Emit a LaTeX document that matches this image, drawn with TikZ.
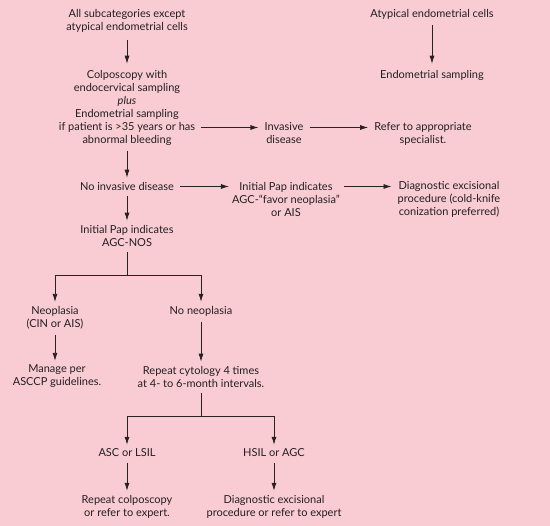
\documentclass[tikz,border=0pt]{standalone}
\usepackage{fontspec}
\setmainfont{Lato}
\usetikzlibrary{arrows.meta}
\definecolor{bg}{RGB}{249,204,212}
\definecolor{ink}{RGB}{40,34,34}
\definecolor{txt}{RGB}{35,31,32}
\tikzset{
  lbl/.style={align=center, text=txt, inner sep=0pt, font=\fontsize{11}{13}\selectfont},
  arr/.style={draw=ink, line width=0.8pt, -{Latex[length=8pt,width=5pt]}},
  ln/.style={draw=ink, line width=0.8pt}
}
\begin{document}
\begin{tikzpicture}[x=1pt,y=-1pt]
\fill[bg] (0,0) rectangle (550,526);
\useasboundingbox (0,0) rectangle (550,526);

\node[lbl] (all) at (127,20.5) {All subcategories except\\atypical endometrial cells};
\node[lbl] (atyp) at (432,14) {Atypical endometrial cells};
\node[lbl] (endo) at (432,75) {Endometrial sampling};
\node[lbl] (colp) at (127,107.5) {Colposcopy with\\endocervical sampling\\\textit{plus}\\Endometrial sampling\\if patient is >35 years or has\\abnormal bleeding};
\node[lbl] (inv) at (284,133.5) {Invasive\\disease};
\node[lbl] (refer) at (423,133.5) {Refer to appropriate\\specialist.};
\node[lbl] (noinv) at (127,186) {No invasive disease};
\node[lbl] (favor) at (286,199) {Initial Pap indicates\\AGC-“favor neoplasia”\\or AIS};
\node[lbl] (diag1) at (449,199) {Diagnostic excisional\\procedure (cold-knife\\conization preferred)};
\node[lbl] (nos) at (127,235.5) {Initial Pap indicates\\AGC-NOS};
\node[lbl] (neo) at (55,317.5) {Neoplasia\\(CIN or AIS)};
\node[lbl] (noneo) at (201,311) {No neoplasia};
\node[lbl] (manage) at (57,376.5) {Manage per\\ASCCP guidelines.};
\node[lbl] (repeat) at (201,376.5) {Repeat cytology 4 times\\at 4- to 6-month intervals.};
\node[lbl] (asc) at (127,453) {ASC or LSIL};
\node[lbl] (hsil) at (274,453) {HSIL or AGC};
\node[lbl] (rcol) at (127,506.5) {Repeat colposcopy\\or refer to expert.};
\node[lbl] (diag2) at (274,506.5) {Diagnostic excisional\\procedure or refer to expert};

\coordinate (r1) at (0,127.5);
\coordinate (r2) at (0,186.5);
\coordinate (b1) at (127,275);
\coordinate (b2) at (201,416);

% vertical arrows
\draw[arr] ([yshift=-8pt]all.south) -- ([yshift=6pt]colp.north);
\draw[arr] ([yshift=-6pt]atyp.south) -- ([yshift=6pt]endo.north);
\draw[arr] ([yshift=-6pt]colp.south) -- ([yshift=4pt]noinv.north);
\draw[arr] ([yshift=-6pt]noinv.south) -- ([yshift=4pt]nos.north);
\draw[arr] ([yshift=-6pt]neo.south) -- ([yshift=4pt]neo.south |- manage.north);
\draw[arr] ([yshift=-6pt]noneo.south) -- ([yshift=4pt]repeat.north);
\draw[arr] ([yshift=-6pt]asc.south) -- ([yshift=4pt]rcol.north);
\draw[arr] ([yshift=-6pt]hsil.south) -- ([yshift=4pt]diag2.north);

% horizontal arrows
\draw[arr] ([xshift=6pt]colp.east |- r1) -- ([xshift=-6pt]inv.west |- r1);
\draw[arr] ([xshift=6pt]inv.east |- r1) -- ([xshift=-6pt]refer.west |- r1);
\draw[arr] ([xshift=6pt]noinv.east |- r2) -- ([xshift=-3pt]favor.west |- r2);
\draw[arr] ([xshift=4pt]favor.east |- r2) -- ([xshift=-6pt]diag1.west |- r2);

% branches
\draw[ln] ([yshift=-6pt]nos.south) -- (b1);
\draw[arr] (b1) -| ([yshift=4pt]neo.north);
\draw[arr] (b1) -| ([yshift=4pt]noneo.north);
\draw[ln] ([yshift=-6pt]repeat.south) -- (b2);
\draw[arr] (b2) -| ([yshift=4pt]asc.north);
\draw[arr] (b2) -| ([yshift=4pt]hsil.north);
\end{tikzpicture}
\end{document}
